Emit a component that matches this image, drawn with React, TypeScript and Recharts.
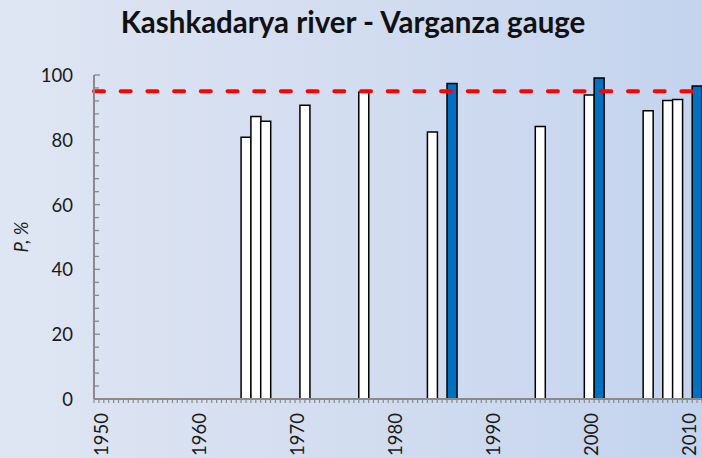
import { ComposedChart, Bar, XAxis, YAxis, ReferenceLine, Cell, Label } from "recharts";

// categories: every year on the axis
const years = Array.from({ length: 62 }, (_, i) => 1950 + i);

// P, % values below the threshold (white bars)
const whiteYears = [1965, 1966, 1967, 1971, 1977, 1984, 1995, 2000, 2006, 2008, 2009];
const whiteValues = [80.8, 87.2, 85.7, 90.7, 94.7, 82.4, 84.1, 93.8, 89.0, 92.1, 92.4];

// values above the threshold (blue bars)
const blueYears = [1986, 2001, 2011];
const blueValues = [97.4, 99.1, 96.6];

const threshold = 95;
const yLabelTicks = [0, 20, 40, 60, 80, 100];
const yMinorTicks = Array.from({ length: 26 }, (_, i) => i * 4);

const data = years.map((y) => {
  const w = whiteYears.indexOf(y);
  const b = blueYears.indexOf(y);
  return {
    year: String(y),
    p: w >= 0 ? whiteValues[w] : b >= 0 ? blueValues[b] : null,
    high: b >= 0,
  };
});

const W = 702;
const H = 458;
const LEFT = 94;
const band = (W - LEFT) / years.length;
const font = "Lato, 'Open Sans', sans-serif";
const axisGray = "#8a8a8a";
const textColor = "#1a1a1a";

const YTick = (props: any) => {
  const { x, y, payload } = props;
  const major = yLabelTicks.includes(payload.value);
  return (
    <g>
      <line x1={x} x2={x + (major ? 6 : 5)} y1={y} y2={y} stroke={axisGray} strokeWidth={1.3} />
      {major && (
        <text x={x - 21} y={y} textAnchor="end" dominantBaseline="central" fontSize={18.5} fill={textColor} fontFamily={font}>
          {payload.value}
        </text>
      )}
    </g>
  );
};

const XTick = (props: any) => {
  const { x, y, payload, index } = props;
  const yr = Number(payload.value);
  return (
    <g>
      <line x1={x - band / 2} x2={x - band / 2} y1={y} y2={y + 4} stroke={axisGray} strokeWidth={1.2} />
      <line x1={x} x2={x} y1={y} y2={y + 4} stroke={axisGray} strokeWidth={1.2} />
      {index === years.length - 1 && (
        <line x1={x + band / 2} x2={x + band / 2} y1={y} y2={y + 4} stroke={axisGray} strokeWidth={1.2} />
      )}
      {yr % 10 === 0 && (
        <text
          transform={`translate(${x + 2},${y + 14}) rotate(-90)`}
          textAnchor="end"
          dominantBaseline="central"
          fontSize={18.5}
          fill={textColor}
          fontFamily={font}
        >
          {payload.value}
        </text>
      )}
    </g>
  );
};

export default function App() {
  return (
    <div
      style={{
        position: "absolute",
        left: 0,
        top: 0,
        width: W,
        height: H,
        background: "linear-gradient(90deg, #dfe6f3 0%, #d3ddf0 50%, #c4d4ee 100%)",
        overflow: "hidden",
      }}
    >
      <div
        style={{
          position: "absolute",
          left: 0,
          width: W,
          top: 4,
          textAlign: "center",
          paddingLeft: 2,
          fontFamily: font,
          fontWeight: 700,
          fontSize: 29.5,
          color: "#111",
        }}
      >
        Kashkadarya river - Varganza gauge
      </div>
      <ComposedChart
        width={W}
        height={H}
        data={data}
        margin={{ top: 75, right: 0, bottom: 0, left: 0 }}
        barCategoryGap={0}
        barGap={0}
      >
        <XAxis
          dataKey="year"
          interval={0}
          height={59}
          tickSize={0}
          tickMargin={0}
          tick={<XTick />}
          axisLine={{ stroke: axisGray, strokeWidth: 2 }}
        />
        <YAxis
          domain={[0, 100]}
          ticks={yMinorTicks}
          interval={0}
          width={LEFT}
          tickSize={0}
          tickMargin={0}
          tick={<YTick />}
          axisLine={{ stroke: axisGray, strokeWidth: 2 }}
        >
          <Label
            content={({ viewBox }: any) => (
              <text
                transform={`translate(21,${viewBox.y + viewBox.height / 2}) rotate(-90)`}
                textAnchor="middle"
                dominantBaseline="central"
                fontSize={18.5}
                fontStyle="italic"
                fill={textColor}
                fontFamily={font}
              >
                P, %
              </text>
            )}
          />
        </YAxis>
        <Bar dataKey="p" stroke="#000" strokeWidth={1.5} isAnimationActive={false}>
          {data.map((d) => (
            <Cell key={d.year} fill={d.high ? "#0070c0" : "#ffffff"} />
          ))}
        </Bar>
        <ReferenceLine
          y={threshold}
          stroke="#ff0000"
          strokeWidth={4}
          strokeDasharray="10 16.7"
          strokeLinecap="round"
        />
      </ComposedChart>
    </div>
  );
}
